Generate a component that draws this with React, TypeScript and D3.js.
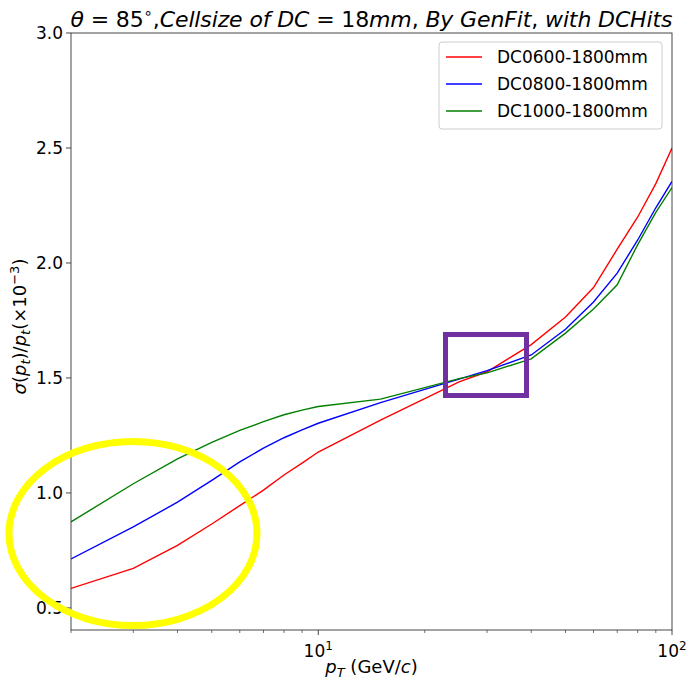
import React from "react";
import * as d3 from "d3";

// Transverse momentum points (GeV/c)
const ptValues = [2, 3, 4, 5, 6, 7, 8, 9, 10, 15, 20, 25, 30, 40, 50, 60, 70, 80, 90, 100];

// Relative pT resolution (x10^-3) for each drift chamber configuration
const dc0600 = [0.585, 0.672, 0.772, 0.865, 0.945, 1.012, 1.078, 1.13, 1.178, 1.317, 1.41, 1.483, 1.527, 1.645, 1.765, 1.893, 2.06, 2.2, 2.345, 2.5];
const dc0800 = [0.713, 0.852, 0.96, 1.055, 1.135, 1.195, 1.24, 1.274, 1.303, 1.393, 1.45, 1.495, 1.532, 1.6, 1.712, 1.83, 1.956, 2.1, 2.24, 2.355];
const dc1000 = [0.874, 1.04, 1.148, 1.22, 1.272, 1.31, 1.34, 1.36, 1.376, 1.408, 1.458, 1.497, 1.522, 1.583, 1.695, 1.8, 1.905, 2.08, 2.22, 2.328];

const seriesNames = ["DC0600-1800mm", "DC0800-1800mm", "DC1000-1800mm"];
const seriesColors = ["#ff0000", "#0000ff", "#008000"];
const seriesData = [dc0600, dc0800, dc1000];

const yTicks = [0.5, 1.0, 1.5, 2.0, 2.5, 3.0];
const xMajorTicks = [10, 100];
const xMinorTicks = [2, 3, 4, 5, 6, 7, 8, 9, 20, 30, 40, 50, 60, 70, 80, 90];

const W = 689;
const H = 683;
const M = { left: 71, right: 672, top: 33, bottom: 630 };
const FONT = "DejaVu Sans, sans-serif";

export default function App() {
  const x = d3.scaleLog().domain([2, 100]).range([M.left, M.right]);
  const y = d3.scaleLinear().domain([0.404, 3.0]).range([M.bottom, M.top]);

  const line = d3
    .line<[number, number]>()
    .x((d) => x(d[0]))
    .y((d) => y(d[1]));

  return (
    <div style={{ position: "absolute", left: 0, top: 0 }}>
      <svg width={W} height={H} style={{ display: "block", background: "#fff" }}>
        <rect x={0} y={0} width={W} height={H} fill="#fff" />
        <defs>
          <clipPath id="plotClip">
            <rect x={M.left} y={M.top} width={M.right - M.left} height={M.bottom - M.top} />
          </clipPath>
        </defs>

        {/* series */}
        <g clipPath="url(#plotClip)">
          {seriesData.map((vals, i) => (
            <path
              key={seriesNames[i]}
              d={line(ptValues.map((p, j) => [p, vals[j]] as [number, number])) || ""}
              fill="none"
              stroke={seriesColors[i]}
              strokeWidth={1.4}
            />
          ))}
        </g>

        {/* frame */}
        <rect
          x={M.left}
          y={M.top}
          width={M.right - M.left}
          height={M.bottom - M.top}
          fill="none"
          stroke="#333"
          strokeWidth={0.9}
        />

        {/* y ticks */}
        {yTicks.map((t) => (
          <g key={t}>
            <line x1={M.left - 5} x2={M.left} y1={y(t)} y2={y(t)} stroke="#333" strokeWidth={0.9} />
            <text
              x={M.left - 8}
              y={y(t)}
              dy="0.36em"
              textAnchor="end"
              fontFamily={FONT}
              fontSize={17}
              fill="#000"
            >
              {t.toFixed(1)}
            </text>
          </g>
        ))}

        {/* x ticks */}
        {xMinorTicks.map((t) => (
          <line key={t} x1={x(t)} x2={x(t)} y1={M.bottom} y2={M.bottom + 3} stroke="#333" strokeWidth={0.7} />
        ))}
        {xMajorTicks.map((t) => (
          <g key={t}>
            <line x1={x(t)} x2={x(t)} y1={M.bottom} y2={M.bottom + 5} stroke="#333" strokeWidth={0.9} />
            <text x={x(t)} y={M.bottom + 27} textAnchor="middle" fontFamily={FONT} fontSize={17} fill="#000">
              10
              <tspan fontSize={12} dy={-7}>
                {Math.round(Math.log10(t))}
              </tspan>
            </text>
          </g>
        ))}

        {/* x label */}
        <text x={(M.left + M.right) / 2} y={673} textAnchor="middle" fontFamily={FONT} fontSize={18} fill="#000">
          <tspan fontStyle="italic">p</tspan>
          <tspan fontStyle="italic" fontSize={13} dy={4}>T</tspan>
          <tspan dy={-4}> (GeV/</tspan>
          <tspan fontStyle="italic">c</tspan>
          <tspan>)</tspan>
        </text>

        {/* y label */}
        <text
          transform={`translate(26, ${(M.top + M.bottom) / 2 - 5}) rotate(-90)`}
          textAnchor="middle"
          fontFamily={FONT}
          fontSize={18}
          fill="#000"
        >
          <tspan fontStyle="italic">σ</tspan>
          <tspan>(</tspan>
          <tspan fontStyle="italic">p</tspan>
          <tspan fontStyle="italic" fontSize={13} dy={4}>t</tspan>
          <tspan dy={-4}>)/</tspan>
          <tspan fontStyle="italic">p</tspan>
          <tspan fontStyle="italic" fontSize={13} dy={4}>t</tspan>
          <tspan dy={-4}>(×10</tspan>
          <tspan fontSize={13} dy={-7}>−3</tspan>
          <tspan dy={7}>)</tspan>
        </text>

        {/* title */}
        <text
          x={(M.left + M.right) / 2}
          y={27}
          textAnchor="middle"
          fontFamily={FONT}
          fontSize={22}
          fill="#000"
          textLength={602}
          lengthAdjust="spacing"
        >
          <tspan fontStyle="italic">θ</tspan>
          <tspan> = 85</tspan>
          <tspan fontSize={15} dy={-9}>∘</tspan>
          <tspan dy={9}>,</tspan>
          <tspan fontStyle="italic">Cellsize of DC</tspan>
          <tspan> = 18</tspan>
          <tspan fontStyle="italic">mm</tspan>
          <tspan>, </tspan>
          <tspan fontStyle="italic">By GenFit</tspan>
          <tspan>, </tspan>
          <tspan fontStyle="italic">with DCHits</tspan>
        </text>

        {/* legend */}
        <g>
          <rect x={439} y={42} width={223} height={87} rx={3} fill="#fff" fillOpacity={0.8} stroke="#cccccc" strokeWidth={1} />
          {seriesNames.map((name, i) => (
            <g key={name} transform={`translate(0, ${57 + i * 27})`}>
              <line x1={446} x2={482} y1={0} y2={0} stroke={seriesColors[i]} strokeWidth={1.4} />
              <text x={497} y={0} dy="0.36em" fontFamily={FONT} fontSize={17} fill="#000">
                {name}
              </text>
            </g>
          ))}
        </g>

        {/* highlight marks */}
        <ellipse cx={133} cy={533.5} rx={124} ry={92} fill="none" stroke="#ffff00" strokeWidth={7} />
        <rect x={445.5} y={334.5} width={81} height={61} fill="none" stroke="#7030a0" strokeWidth={5} />
      </svg>
    </div>
  );
}
